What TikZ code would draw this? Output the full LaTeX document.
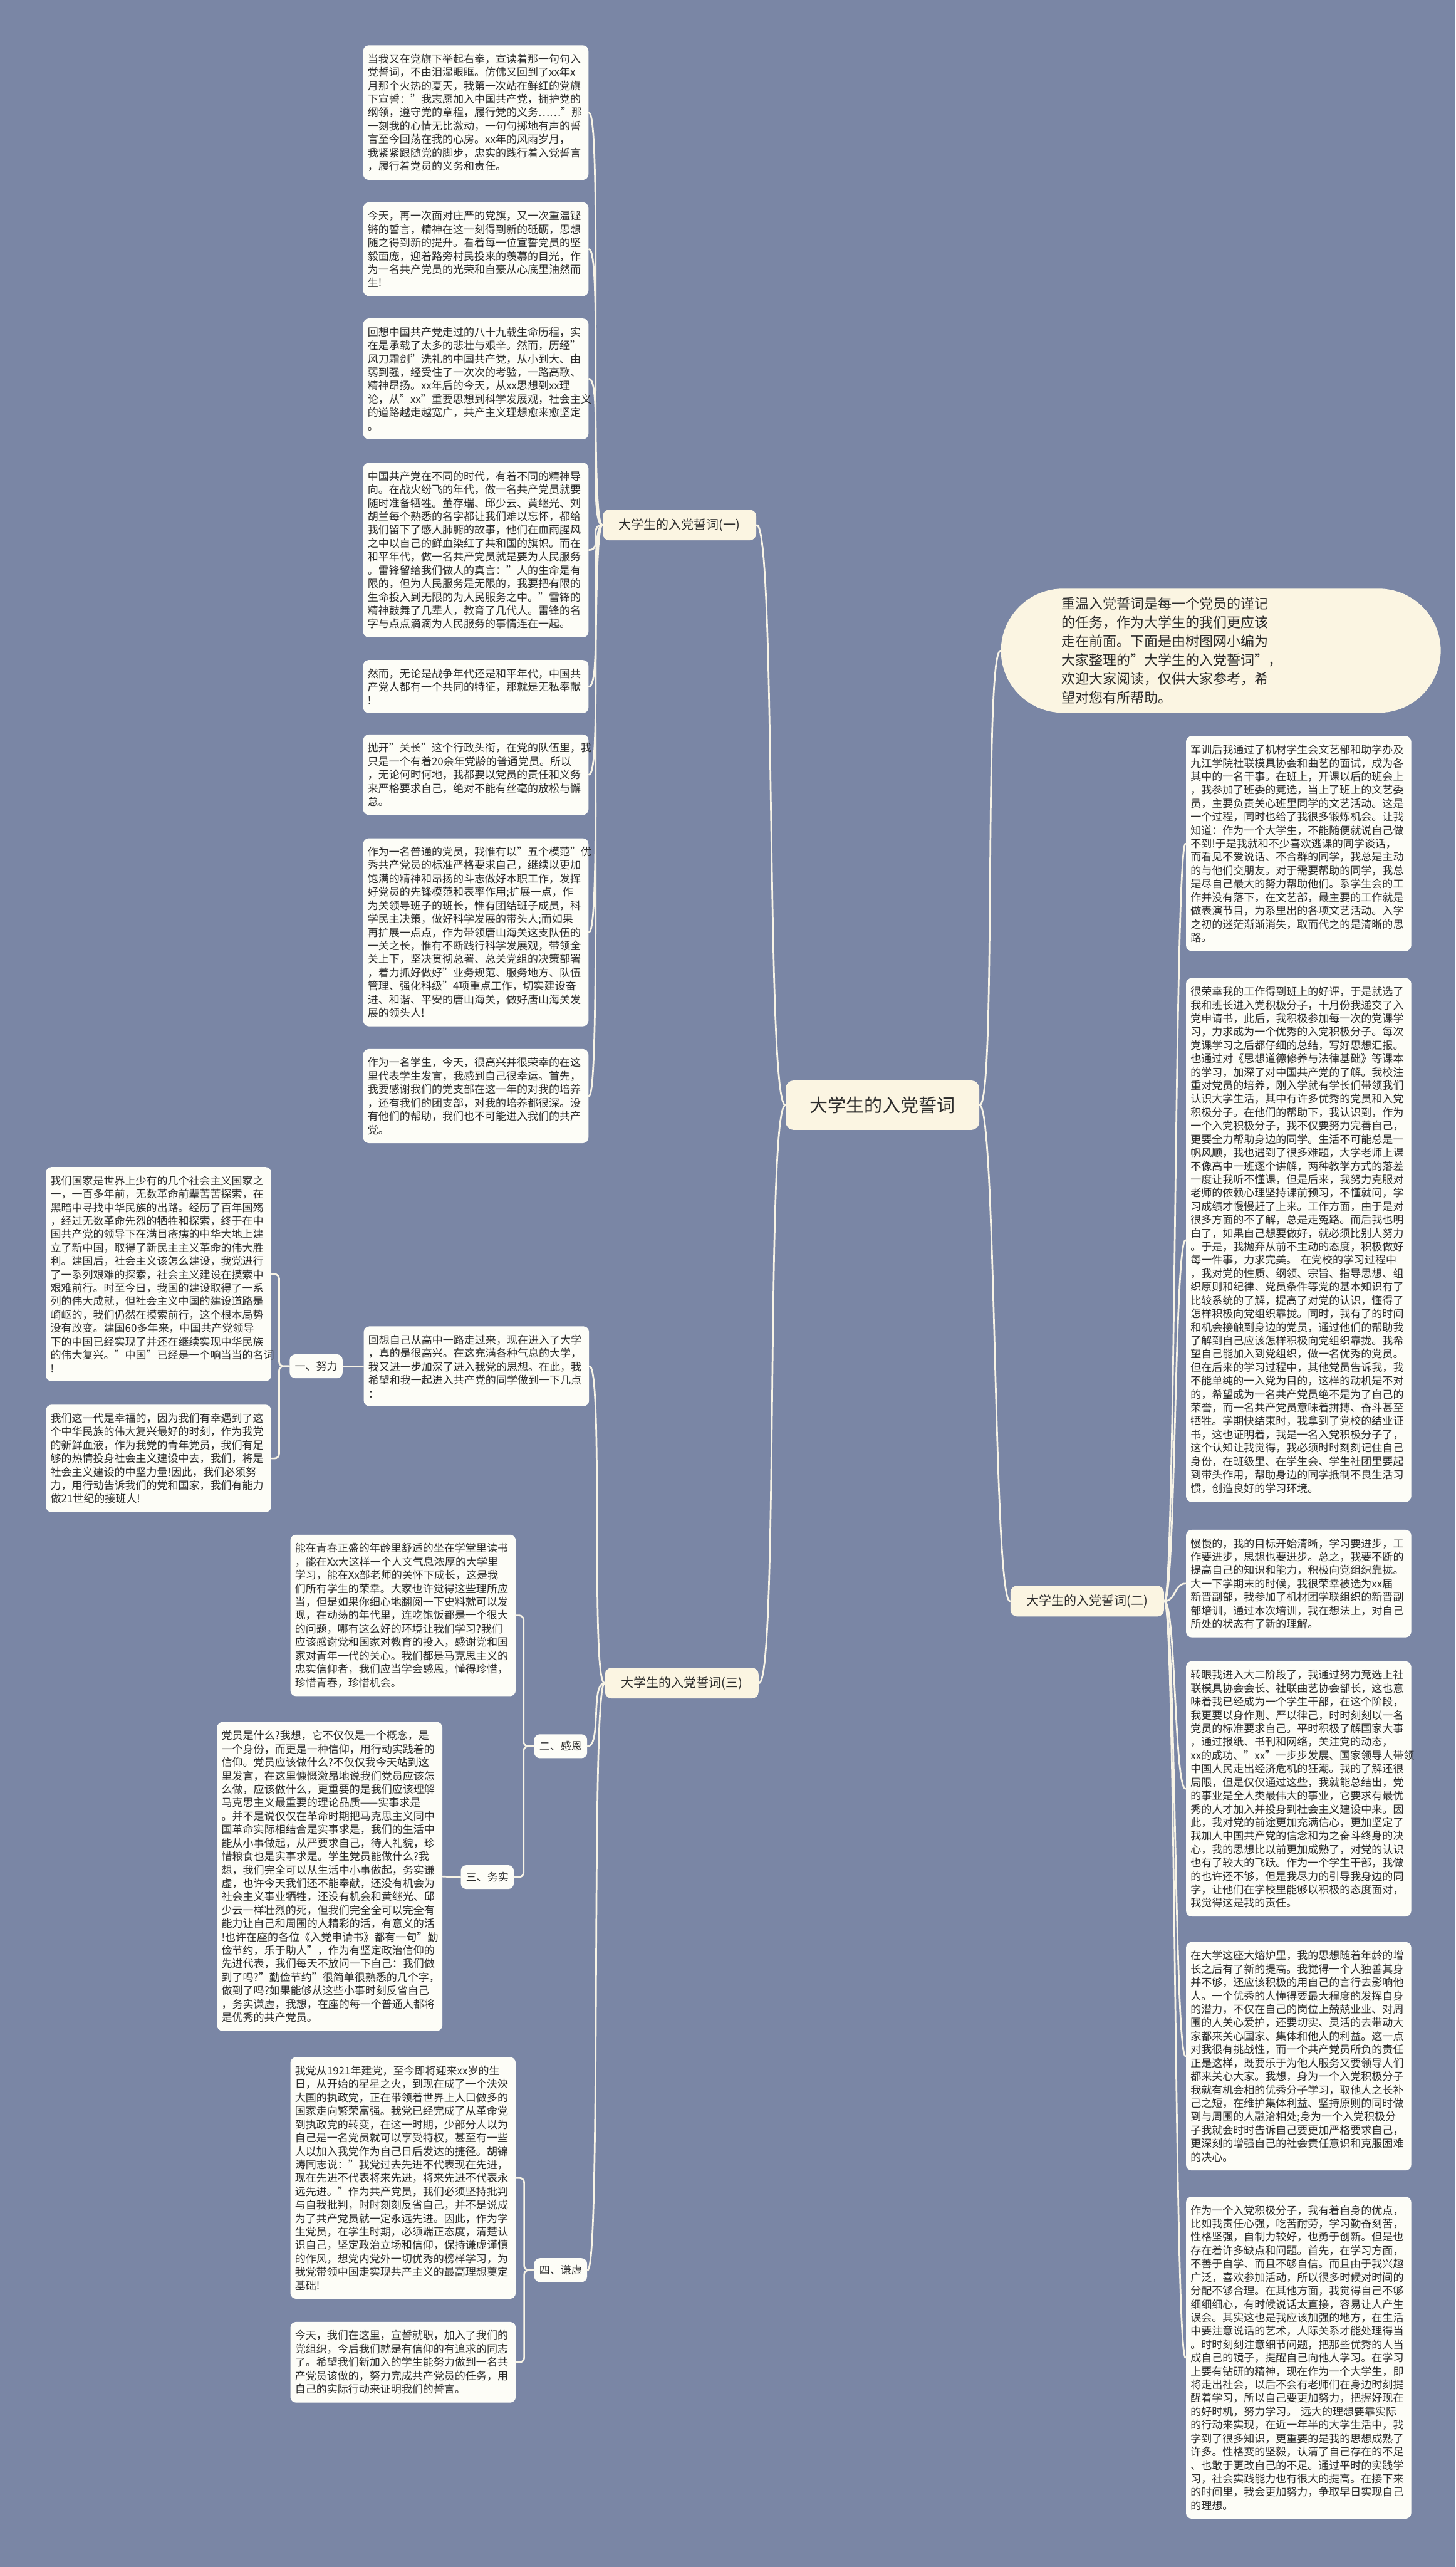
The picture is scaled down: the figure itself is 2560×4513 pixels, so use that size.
\documentclass[tikz,border=0pt]{standalone}
\usepackage{fontspec}
\setmainfont{Noto Sans CJK SC}
\definecolor{mapbg}{HTML}{7A86A5}
\definecolor{cardfill}{HTML}{FDFDF7}
\definecolor{creamfill}{HTML}{FBF5E2}
\definecolor{linkcol}{HTML}{F8F4E6}
\definecolor{ink}{HTML}{2B2B2B}
\newcommand{\bodysize}{\fontsize{5.33pt}{6.71pt}\selectfont}
\newcommand{\introsize}{\fontsize{6.9pt}{9.39pt}\selectfont}

\begin{document}
\begin{tikzpicture}[x=0.01cm,y=-0.01cm,
    card/.style={fill=cardfill,rounded corners=0.1cm,text=ink,font=\bodysize,
      align=left,text width=3.8cm,inner xsep=0.08cm,inner ysep=0.15cm,anchor=west},
    tag/.style={fill=cardfill,rounded corners=0.1cm,text=ink,font=\bodysize,
      minimum width=0.93cm,minimum height=0.42cm,inner sep=0pt},
    topic/.style={fill=creamfill,rounded corners=0.12cm,text=ink,font=\fontsize{6.26pt}{7.5pt}\selectfont,
      minimum width=2.7cm,minimum height=0.54cm,inner sep=0pt},
    link/.style={draw=linkcol,line width=0.85pt,line cap=round}]
  \fill[mapbg] (0,0) rectangle (2560,4513);

  % centre and the intro bubble
  \node[fill=creamfill,rounded corners=0.14cm,text=ink,font=\fontsize{9.1pt}{11pt}\selectfont,
    minimum width=3.4cm,minimum height=0.87cm,inner sep=0pt] (root) at (1552,1943) {大学生的入党誓词};
  \node[fill=creamfill,rounded corners=1.09cm,minimum width=7.73cm,minimum height=2.18cm,inner sep=0pt]
    (intro) at (2147,1144) {};
  \node[anchor=west,text=ink,font=\introsize,align=left,text width=3.72cm,inner sep=0pt]
    (introtxt) at (1866,1144) {重温入党誓词是每一个党员的谨记\\的任务，作为大学生的我们更应该\\走在前面。下面是由树图网小编为\\大家整理的"大学生的入党誓词"，\\欢迎大家阅读，仅供大家参考，希\\望对您有所帮助。};

  \node[topic] (one) at (1195,923) {大学生的入党誓词(一)};
  \node[topic] (two) at (1912,2815) {大学生的入党誓词(二)};
  \node[topic] (three) at (1199,2959) {大学生的入党誓词(三)};

  % branch one
  \node[card] (b1) at (638,198) {当我又在党旗下举起右拳，宣读着那一句句入\\党誓词，不由泪湿眼眶。仿佛又回到了xx年x\\月那个火热的夏天，我第一次站在鲜红的党旗\\下宣誓："我志愿加入中国共产党，拥护党的\\纲领，遵守党的章程，履行党的义务……"那\\一刻我的心情无比激动，一句句掷地有声的誓\\言至今回荡在我的心房。xx年的风雨岁月，\\我紧紧跟随党的脚步，忠实的践行着入党誓言\\，履行着党员的义务和责任。};
  \node[card] (b2) at (638,438) {今天，再一次面对庄严的党旗，又一次重温铿\\锵的誓言，精神在这一刻得到新的砥砺，思想\\随之得到新的提升。看着每一位宣誓党员的坚\\毅面庞，迎着路旁村民投来的羡慕的目光，作\\为一名共产党员的光荣和自豪从心底里油然而\\生!};
  \node[card] (b3) at (638,666) {回想中国共产党走过的八十九载生命历程，实\\在是承载了太多的悲壮与艰辛。然而，历经"\\风刀霜剑"洗礼的中国共产党，从小到大、由\\弱到强，经受住了一次次的考验，一路高歌、\\精神昂扬。xx年后的今天，从xx思想到xx理\\论，从"xx"重要思想到科学发展观，社会主义\\的道路越走越宽广，共产主义理想愈来愈坚定\\。};
  \node[card] (b4) at (638,967) {中国共产党在不同的时代，有着不同的精神导\\向。在战火纷飞的年代，做一名共产党员就要\\随时准备牺牲。董存瑞、邱少云、黄继光、刘\\胡兰每个熟悉的名字都让我们难以忘怀，都给\\我们留下了感人肺腑的故事，他们在血雨腥风\\之中以自己的鲜血染红了共和国的旗帜。而在\\和平年代，做一名共产党员就是要为人民服务\\。雷锋留给我们做人的真言："人的生命是有\\限的，但为人民服务是无限的，我要把有限的\\生命投入到无限的为人民服务之中。"雷锋的\\精神鼓舞了几辈人，教育了几代人。雷锋的名\\字与点点滴滴为人民服务的事情连在一起。};
  \node[card] (b5) at (638,1207) {然而，无论是战争年代还是和平年代，中国共\\产党人都有一个共同的特征，那就是无私奉献\\!};
  \node[card] (b6) at (638,1362) {抛开"关长"这个行政头衔，在党的队伍里，我\\只是一个有着20余年党龄的普通党员。所以\\，无论何时何地，我都要以党员的责任和义务\\来严格要求自己，绝对不能有丝毫的放松与懈\\怠。};
  \node[card] (b7) at (638,1639) {作为一名普通的党员，我惟有以"五个模范"优\\秀共产党员的标准严格要求自己，继续以更加\\饱满的精神和昂扬的斗志做好本职工作，发挥\\好党员的先锋模范和表率作用;扩展一点，作\\为关领导班子的班长，惟有团结班子成员，科\\学民主决策，做好科学发展的带头人;而如果\\再扩展一点点，作为带领唐山海关这支队伍的\\一关之长，惟有不断践行科学发展观，带领全\\关上下，坚决贯彻总署、总关党组的决策部署\\，着力抓好做好"业务规范、服务地方、队伍\\管理、强化科级"4项重点工作，切实建设奋\\进、和谐、平安的唐山海关，做好唐山海关发\\展的领头人!};
  \node[card] (b8) at (638,1927) {作为一名学生，今天，很高兴并很荣幸的在这\\里代表学生发言，我感到自己很幸运。首先，\\我要感谢我们的党支部在这一年的对我的培养\\，还有我们的团支部，对我的培养都很深。没\\有他们的帮助，我们也不可能进入我们的共产\\党。};

  % branch three
  \node[card] (b9) at (639,2402) {回想自己从高中一路走过来，现在进入了大学\\，真的是很高兴。在这充满各种气息的大学，\\我又进一步加深了进入我党的思想。在此，我\\希望和我一起进入共产党的同学做到一下几点\\：};
  \node[tag] (nuli) at (556,2402) {一、努力};
  \node[card] (fl1) at (80,2240) {我们国家是世界上少有的几个社会主义国家之\\一，一百多年前，无数革命前辈苦苦探索，在\\黑暗中寻找中华民族的出路。经历了百年国殇\\，经过无数革命先烈的牺牲和探索，终于在中\\国共产党的领导下在满目疮痍的中华大地上建\\立了新中国，取得了新民主主义革命的伟大胜\\利。建国后，社会主义该怎么建设，我党进行\\了一系列艰难的探索，社会主义建设在摸索中\\艰难前行。时至今日，我国的建设取得了一系\\列的伟大成就，但社会主义中国的建设道路是\\崎岖的，我们仍然在摸索前行，这个根本局势\\没有改变。建国60多年来，中国共产党领导\\下的中国已经实现了并还在继续实现中华民族\\的伟大复兴。"中国"已经是一个响当当的名词\\!};
  \node[card] (fl2) at (80,2564) {我们这一代是幸福的，因为我们有幸遇到了这\\个中华民族的伟大复兴最好的时刻，作为我党\\的新鲜血液，作为我党的青年党员，我们有足\\够的热情投身社会主义建设中去，我们，将是\\社会主义建设的中坚力量!因此，我们必须努\\力，用行动告诉我们的党和国家，我们有能力\\做21世纪的接班人!};
  \node[tag] (ganen) at (986,3070) {二、感恩};
  \node[card] (b12) at (510,2840) {能在青春正盛的年龄里舒适的坐在学堂里读书\\，能在Xx大这样一个人文气息浓厚的大学里\\学习，能在Xx部老师的关怀下成长，这是我\\们所有学生的荣幸。大家也许觉得这些理所应\\当，但是如果你细心地翻阅一下史料就可以发\\现，在动荡的年代里，连吃饱饭都是一个很大\\的问题，哪有这么好的环境让我们学习?我们\\应该感谢党和国家对教育的投入，感谢党和国\\家对青年一代的关心。我们都是马克思主义的\\忠实信仰者，我们应当学会感恩，懂得珍惜，\\珍惜青春，珍惜机会。};
  \node[tag] (wushi) at (857,3300) {三、务实};
  \node[card] (b13) at (381,3299) {党员是什么?我想，它不仅仅是一个概念，是\\一个身份，而更是一种信仰，用行动实践着的\\信仰。党员应该做什么?不仅仅我今天站到这\\里发言，在这里慷慨激昂地说我们党员应该怎\\么做，应该做什么，更重要的是我们应该理解\\马克思主义最重要的理论品质——实事求是\\。并不是说仅仅在革命时期把马克思主义同中\\国革命实际相结合是实事求是，我们的生活中\\能从小事做起，从严要求自己，待人礼貌，珍\\惜粮食也是实事求是。学生党员能做什么?我\\想，我们完全可以从生活中小事做起，务实谦\\虚，也许今天我们还不能奉献，还没有机会为\\社会主义事业牺牲，还没有机会和黄继光、邱\\少云一样壮烈的死，但我们完全全可以完全有\\能力让自己和周围的人精彩的活，有意义的活\\!也许在座的各位《入党申请书》都有一句"勤\\俭节约，乐于助人"，作为有坚定政治信仰的\\先进代表，我们每天不放问一下自己：我们做\\到了吗?"勤俭节约"很简单很熟悉的几个字，\\做到了吗?如果能够从这些小事时刻反省自己\\，务实谦虚，我想，在座的每一个普通人都将\\是优秀的共产党员。};
  \node[tag] (qianxu) at (986,3991) {四、谦虚};
  \node[card] (b14) at (510,3829) {我党从1921年建党，至今即将迎来xx岁的生\\日，从开始的星星之火，到现在成了一个泱泱\\大国的执政党，正在带领着世界上人口做多的\\国家走向繁荣富强。我党已经完成了从革命党\\到执政党的转变，在这一时期，少部分人以为\\自己是一名党员就可以享受特权，甚至有一些\\人以加入我党作为自己日后发达的捷径。胡锦\\涛同志说："我党过去先进不代表现在先进，\\现在先进不代表将来先进，将来先进不代表永\\远先进。"作为共产党员，我们必须坚持批判\\与自我批判，时时刻刻反省自己，并不是说成\\为了共产党员就一定永远先进。因此，作为学\\生党员，在学生时期，必须端正态度，清楚认\\识自己，坚定政治立场和信仰，保持谦虚谨慎\\的作风，想党内党外一切优秀的榜样学习，为\\我党带领中国走实现共产主义的最高理想奠定\\基础!};
  \node[card] (b15) at (510,4153) {今天，我们在这里，宣誓就职，加入了我们的\\党组织，今后我们就是有信仰的有追求的同志\\了。希望我们新加入的学生能努力做到一名共\\产党员该做的，努力完成共产党员的任务，用\\自己的实际行动来证明我们的誓言。};

  % branch two
  \node[card] (r1) at (2085,1483) {军训后我通过了机材学生会文艺部和助学办及\\九江学院社联模具协会和曲艺的面试，成为各\\其中的一名干事。在班上，开课以后的班会上\\，我参加了班委的竞选，当上了班上的文艺委\\员，主要负责关心班里同学的文艺活动。这是\\一个过程，同时也给了我很多锻炼机会。让我\\知道：作为一个大学生，不能随便就说自己做\\不到!于是我就和不少喜欢逃课的同学谈话，\\而看见不爱说话、不合群的同学，我总是主动\\的与他们交朋友。对于需要帮助的同学，我总\\是尽自己最大的努力帮助他们。系学生会的工\\作并没有落下，在文艺部，最主要的工作就是\\做表演节目，为系里出的各项文艺活动。入学\\之初的迷茫渐渐消失，取而代之的是清晰的思\\路。};
  \node[card] (r2) at (2085,2180) {很荣幸我的工作得到班上的好评，于是就选了\\我和班长进入党积极分子，十月份我递交了入\\党申请书，此后，我积极参加每一次的党课学\\习，力求成为一个优秀的入党积极分子。每次\\党课学习之后都仔细的总结，写好思想汇报。\\也通过对《思想道德修养与法律基础》等课本\\的学习，加深了对中国共产党的了解。我校注\\重对党员的培养，刚入学就有学长们带领我们\\认识大学生活，其中有许多优秀的党员和入党\\积极分子。在他们的帮助下，我认识到，作为\\一个入党积极分子，我不仅要努力完善自己，\\更要全力帮助身边的同学。生活不可能总是一\\帆风顺，我也遇到了很多难题，大学老师上课\\不像高中一班逐个讲解，两种教学方式的落差\\一度让我听不懂课，但是后来，我努力克服对\\老师的依赖心理坚持课前预习，不懂就问，学\\习成绩才慢慢赶了上来。工作方面，由于是对\\很多方面的不了解，总是走冤路。而后我也明\\白了，如果自己想要做好，就必须比别人努力\\。于是，我抛弃从前不主动的态度，积极做好\\每一件事，力求完美。 在党校的学习过程中\\，我对党的性质、纲领、宗旨、指导思想、组\\织原则和纪律、党员条件等党的基本知识有了\\比较系统的了解，提高了对党的认识，懂得了\\怎样积极向党组织靠拢。同时，我有了的时间\\和机会接触到身边的党员，通过他们的帮助我\\了解到自己应该怎样积极向党组织靠拢。我希\\望自己能加入到党组织，做一名优秀的党员。\\但在后来的学习过程中，其他党员告诉我，我\\不能单纯的一入党为目的，这样的动机是不对\\的，希望成为一名共产党员绝不是为了自己的\\荣誉，而一名共产党员意味着拼搏、奋斗甚至\\牺牲。学期快结束时，我拿到了党校的结业证\\书，这也证明着，我是一名入党积极分子了，\\这个认知让我觉得，我必须时时刻刻记住自己\\身份，在班级里、在学生会、学生社团里要起\\到带头作用，帮助身边的同学抵制不良生活习\\惯，创造良好的学习环境。};
  \node[card] (r3) at (2085,2784) {慢慢的，我的目标开始清晰，学习要进步，工\\作要进步，思想也要进步。总之，我要不断的\\提高自己的知识和能力，积极向党组织靠拢。\\大一下学期末的时候，我很荣幸被选为xx届\\新晋副部，我参加了机材团学联组织的新晋副\\部培训，通过本次培训，我在想法上，对自己\\所处的状态有了新的理解。};
  \node[card] (r4) at (2085,3145) {转眼我进入大二阶段了，我通过努力竞选上社\\联模具协会会长、社联曲艺协会部长，这也意\\味着我已经成为一个学生干部，在这个阶段，\\我更要以身作则、严以律己，时时刻刻以一名\\党员的标准要求自己。平时积极了解国家大事\\，通过报纸、书刊和网络，关注党的动态，\\xx的成功、"xx"一步步发展、国家领导人带领\\中国人民走出经济危机的狂潮。我的了解还很\\局限，但是仅仅通过这些，我就能总结出，党\\的事业是全人类最伟大的事业，它要求有最优\\秀的人才加入并投身到社会主义建设中来。因\\此，我对党的前途更加充满信心，更加坚定了\\我加人中国共产党的信念和为之奋斗终身的决\\心，我的思想比以前更加成熟了，对党的认识\\也有了较大的飞跃。作为一个学生干部，我做\\的也许还不够，但是我尽力的引导我身边的同\\学，让他们在学校里能够以积极的态度面对，\\我觉得这是我的责任。};
  \node[card] (r5) at (2085,3615) {在大学这座大熔炉里，我的思想随着年龄的增\\长之后有了新的提高。我觉得一个人独善其身\\并不够，还应该积极的用自己的言行去影响他\\人。一个优秀的人懂得要最大程度的发挥自身\\的潜力，不仅在自己的岗位上兢兢业业、对周\\围的人关心爱护，还要切实、灵活的去带动大\\家都来关心国家、集体和他人的利益。这一点\\对我很有挑战性，而一个共产党员所负的责任\\正是这样，既要乐于为他人服务又要领导人们\\都来关心大家。我想，身为一个入党积极分子\\我就有机会相的优秀分子学习，取他人之长补\\己之短，在维护集体利益、坚持原则的同时做\\到与周围的人融洽相处;身为一个入党积极分\\子我就会时时告诉自己要更加严格要求自己，\\更深刻的增强自己的社会责任意识和克服困难\\的决心。};
  \node[card] (r6) at (2085,4145) {作为一个入党积极分子，我有着自身的优点，\\比如我责任心强，吃苦耐劳，学习勤奋刻苦，\\性格坚强，自制力较好，也勇于创新。但是也\\存在着许多缺点和问题。首先，在学习方面，\\不善于自学、而且不够自信。而且由于我兴趣\\广泛，喜欢参加活动，所以很多时候对时间的\\分配不够合理。在其他方面，我觉得自己不够\\细细细心，有时候说话太直接，容易让人产生\\误会。其实这也是我应该加强的地方，在生活\\中要注意说话的艺术，人际关系才能处理得当\\。时时刻刻注意细节问题，把那些优秀的人当\\成自己的镜子，提醒自己向他人学习。在学习\\上要有钻研的精神，现在作为一个大学生，即\\将走出社会，以后不会有老师们在身边时刻提\\醒着学习，所以自己要更加努力，把握好现在\\的好时机，努力学习。 远大的理想要靠实际\\的行动来实现，在近一年半的大学生活中，我\\学到了很多知识，更重要的是我的思想成熟了\\许多。性格变的坚毅，认清了自己存在的不足\\、也敢于更改自己的不足。通过平时的实践学\\习，社会实践能力也有很大的提高。在接下来\\的时间里，我会更加努力，争取早日实现自己\\的理想。};

  % connectors
  \draw[link] (root.west) .. controls +(-35,0) and +(35,0) .. (one.east);
  \draw[link] (root.west) .. controls +(-35,0) and +(35,0) .. (three.east);
  \draw[link] (root.east) .. controls +(30,0) and +(-30,0) .. (intro.west);
  \draw[link] (root.east) .. controls +(30,0) and +(-30,0) .. (two.west);
  \draw[link] (one.west) .. controls +(-25,0) and +(25,0) .. (b1.east);
  \draw[link] (one.west) .. controls +(-25,0) and +(25,0) .. (b2.east);
  \draw[link] (one.west) .. controls +(-25,0) and +(25,0) .. (b3.east);
  \draw[link] (one.west) .. controls +(-25,0) and +(25,0) .. (b4.east);
  \draw[link] (one.west) .. controls +(-25,0) and +(25,0) .. (b5.east);
  \draw[link] (one.west) .. controls +(-25,0) and +(25,0) .. (b6.east);
  \draw[link] (one.west) .. controls +(-25,0) and +(25,0) .. (b7.east);
  \draw[link] (one.west) .. controls +(-25,0) and +(25,0) .. (b8.east);
  \draw[link] (two.east) .. controls +(20,0) and +(-20,0) .. (r1.west);
  \draw[link] (two.east) .. controls +(20,0) and +(-20,0) .. (r2.west);
  \draw[link] (two.east) .. controls +(20,0) and +(-20,0) .. (r3.west);
  \draw[link] (two.east) .. controls +(20,0) and +(-20,0) .. (r4.west);
  \draw[link] (two.east) .. controls +(20,0) and +(-20,0) .. (r5.west);
  \draw[link] (two.east) .. controls +(20,0) and +(-20,0) .. (r6.west);
  \draw[link] (three.west) .. controls +(-25,0) and +(25,0) .. (b9.east);
  \draw[link] (three.west) .. controls +(-25,0) and +(25,0) .. (ganen.east);
  \draw[link] (three.west) .. controls +(-25,0) and +(25,0) .. (qianxu.east);
  \draw[link] (b9.west) -- (nuli.east);
  \draw[link,rounded corners=0.08cm] (nuli.west) -- ++(-18,0) |- (fl1.east);
  \draw[link,rounded corners=0.08cm] (nuli.west) -- ++(-18,0) |- (fl2.east);
  \draw[link,rounded corners=0.08cm] (ganen.west) -- ++(-18,0) |- (b12.east);
  \draw[link,rounded corners=0.08cm] (ganen.west) -- ++(-18,0) |- (wushi.east);
  \draw[link] (wushi.west) -- (b13.east);
  \draw[link,rounded corners=0.08cm] (qianxu.west) -- ++(-17,0) |- (b14.east);
  \draw[link,rounded corners=0.08cm] (qianxu.west) -- ++(-17,0) |- (b15.east);
\end{tikzpicture}
\end{document}
